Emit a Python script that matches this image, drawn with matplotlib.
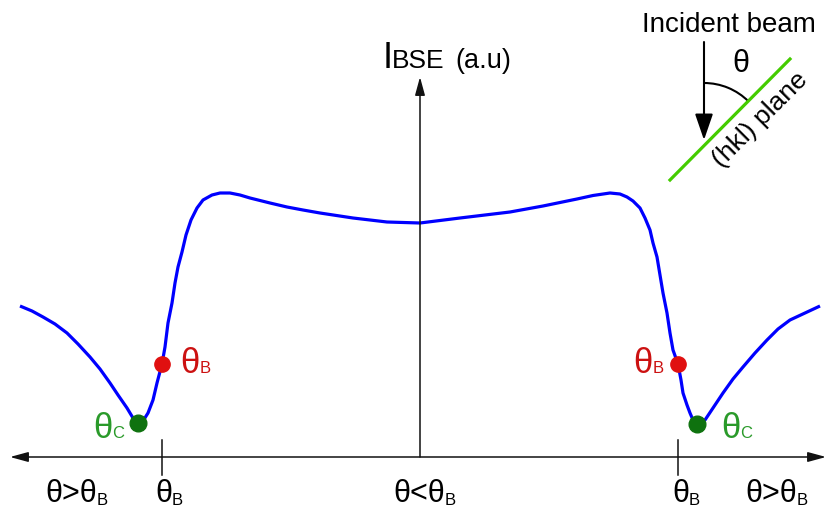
import numpy as np
import matplotlib
matplotlib.use('Agg')
from matplotlib import pyplot as plt
from matplotlib.patches import Arc

plt.rcParams['font.family'] = ['Liberation Sans', 'DejaVu Sans']

# backscattered intensity vs tilt angle (arbitrary units)
angle = [-400, -388, -377, -365, -353, -342, -330, -320, -310, -302, -293, -287, -282,
         -277, -272, -267, -263, -258, -255, -252, -248, -245, -242, -238, -234, -229,
         -223, -217, -208, -200, -190, -180, -170, -150, -133, -117, -100, -67, -33, 0,
         40, 90, 123, 140, 157, 173, 190, 200, 207, 213, 220, 225, 230, 233, 237, 240,
         243, 247, 250, 253, 258, 261, 263, 267, 270, 273, 277,
         285, 293, 303, 313, 323, 335, 347, 358, 370, 385, 400]
intensity = [151, 146, 140, 133, 124, 113, 100, 88, 74, 62, 49, 39, 34,
             36, 44, 57, 74, 93, 110, 134, 154, 174, 190, 205, 222, 237,
             249, 257, 262, 264, 264, 262, 259, 254, 250, 247, 244, 239, 235, 234,
             239, 245, 251, 254.5, 258, 261.5, 264, 263, 260, 256, 249, 239, 227, 214, 200, 182,
             164, 144, 124, 107, 93, 77, 64, 52, 44, 37, 33,
             37, 49, 64, 78, 90, 104, 117, 128, 137, 144, 151]

bragg_angle = [-258, 258]
bragg_val = [93, 93]
crit_angle = [-282, 277]
crit_val = [34, 33]

fig = plt.figure(figsize=(8.26, 5.13), dpi=100)
ax = fig.add_axes([0, 0, 1, 1])
ax.set_xlim(-420, 406)
ax.set_ylim(-56, 457)
ax.axis('off')
renderer = fig.canvas.get_renderer()

ax.plot(angle, intensity, color='#0000ff', lw=2.3, zorder=2,
        solid_joinstyle='round', solid_capstyle='butt')

# axes arrows
ax.annotate('', xy=(-410, 0), xytext=(406, 0),
            arrowprops=dict(arrowstyle='<|-|>,head_length=1.1,head_width=0.3', mutation_scale=10,
                            color='#111111', lw=1.1, shrinkA=0, shrinkB=0), zorder=3)
ax.annotate('', xy=(0, 380), xytext=(0, 0),
            arrowprops=dict(arrowstyle='-|>,head_length=1.1,head_width=0.3', mutation_scale=10,
                            color='#111111', lw=1.1, shrinkA=0, shrinkB=0), zorder=3)
for a in bragg_angle:
    ax.plot([a, a], [17, -18], color='#111111', lw=1.1, zorder=3)

ax.plot(bragg_angle, bragg_val, 'o', color='#e01010', ms=11, zorder=4)
ax.plot(crit_angle, crit_val, 'o', color='#0f720f', ms=12, zorder=4)


def label(x, y, main, sub, color, size, subsize, drop=0):
    t = ax.text(x, y, main, fontsize=size, color=color, va='baseline', ha='left')
    w = t.get_window_extent(renderer).width * 72 / fig.dpi
    ax.annotate(sub, xy=(x, y), xytext=(w, -drop), textcoords='offset points',
                fontsize=subsize, color=color, va='baseline', ha='left')


# labels under the axis
label(-375, -45, 'θ>θ', 'B', 'black', 22, 12, 2)
label(-265, -45, 'θ', 'B', 'black', 22, 12, 2)
label(-27, -45, 'θ<θ', 'B', 'black', 22, 12, 2)
label(252, -45, 'θ', 'B', 'black', 22, 12, 2)
label(325, -45, 'θ>θ', 'B', 'black', 22, 12, 2)

# labels beside the dots
label(-240, 84, 'θ', 'B', '#cc1111', 25, 12)
label(213, 84, 'θ', 'B', '#cc1111', 25, 12)
label(-327, 19, 'θ', 'C', '#2a9a2a', 25, 12)
label(301, 19, 'θ', 'C', '#2a9a2a', 25, 12)

# y axis title
ax.text(-37, 389, 'I', fontsize=26, va='baseline', ha='left')
ax.text(-28, 389, 'BSE', fontsize=19, va='baseline', ha='left')
ax.text(35, 389, '(a.u)', fontsize=19.5, va='baseline', ha='left')

# geometry sketch in the corner
ax.plot([250, 370], [277, 398], color='#44cc00', lw=2.3, zorder=2)
ax.annotate('', xy=(284, 317), xytext=(284, 415),
            arrowprops=dict(arrowstyle='-|>,head_length=1.6,head_width=0.55', mutation_scale=10,
                            color='black', lw=1.5, shrinkA=0, shrinkB=0), zorder=3)
ax.add_patch(Arc((284, 311), 126, 126, theta1=45, theta2=90, color='black', lw=1.5))
ax.text(309, 425, 'Incident beam', fontsize=20, ha='center', va='baseline')
ax.text(321, 393, 'θ', fontsize=22, ha='center', va='center')
ax.text(340, 337, '(hkl) plane', fontsize=19, ha='center', va='center', rotation=45,
        rotation_mode='anchor')

fig.savefig('out.png', dpi=100)
